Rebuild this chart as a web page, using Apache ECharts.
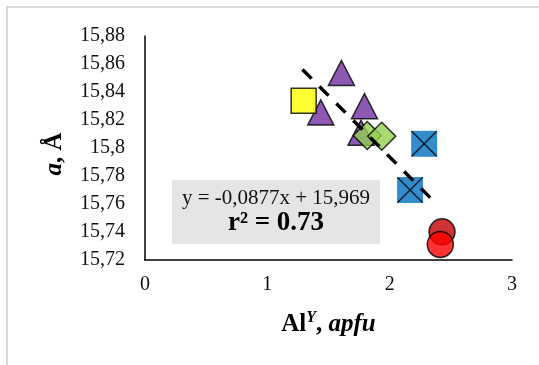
<!DOCTYPE html>
<html>
<head>
<meta charset="utf-8">
<script src="https://cdn.jsdelivr.net/npm/echarts@6/dist/echarts.min.js"></script>
<style>
html,body{margin:0;padding:0;background:#fff;}
#chart{width:539px;height:365px;}
</style>
</head>
<body>
<div id="chart"></div>
<script>
// ---- data ----
const purpleX = [1.606, 1.437, 1.794, 1.766];
const purpleY = [15.8536, 15.8254, 15.8299, 15.8109];
const yellowX = [1.297];
const yellowY = [15.8338];
const greenX = [1.817, 1.935];
const greenY = [15.8089, 15.8084];
const blueX = [2.282, 2.167];
const blueY = [15.8030, 15.7700];
const darkRedX = [2.428];
const darkRedY = [15.7401];
const redX = [2.414];
const redY = [15.7311];
const trendSlope = -0.0877;
const trendIntercept = 15.969;
const trendRangeX = [1.287, 2.344];
const xTicks = [0, 1, 2, 3];
const yTicks = [15.72, 15.74, 15.76, 15.78, 15.8, 15.82, 15.84, 15.86, 15.88];
const eqText = 'y = -0,0877x + 15,969';
const r2Text = 'r² = 0.73';

const FONT = "'Liberation Serif', 'Times New Roman', serif";
const pts = (xs, ys) => xs.map((x, i) => [x, ys[i]]);
const trendData = trendRangeX.map(x => [x, trendSlope * x + trendIntercept]);

const chart = echarts.init(document.getElementById('chart'));

chart.setOption({
  animation: false,
  backgroundColor: '#fff',
  grid: {left: 145, right: 27, top: 36, bottom: 105, containLabel: false},
  xAxis: {
    type: 'value',
    min: xTicks[0], max: xTicks[xTicks.length - 1], interval: 1,
    splitLine: {show: false},
    axisTick: {show: false},
    axisLine: {lineStyle: {color: '#000', width: 1.5}},
    axisLabel: {fontFamily: FONT, fontSize: 20, color: '#111', margin: 15},
    name: '{b|Al}{sup|Y}{b|, }{bi|apfu}',
    nameLocation: 'middle',
    nameGap: 50,
    nameTextStyle: {
      rich: {
        b: {fontFamily: FONT, fontWeight: 'bold', fontSize: 25, color: '#000'},
        sup: {fontFamily: FONT, fontWeight: 'bold', fontStyle: 'italic', fontSize: 16, color: '#000', padding: [0, 0, 14, 0]},
        bi: {fontFamily: FONT, fontWeight: 'bold', fontStyle: 'italic', fontSize: 25, color: '#000'}
      }
    }
  },
  yAxis: {
    type: 'value',
    min: yTicks[0], max: yTicks[yTicks.length - 1], interval: 0.02,
    splitLine: {show: false},
    axisTick: {show: false},
    axisLine: {show: true, lineStyle: {color: '#000', width: 1.5}},
    axisLabel: {
      fontFamily: FONT, fontSize: 20, color: '#111', margin: 20,
      formatter: v => String(+v.toFixed(2)).replace('.', ',')
    },
    name: '{bi|a}{b|, Å}',
    nameLocation: 'middle',
    nameRotate: 90,
    nameGap: 78,
    nameTextStyle: {
      padding: [0, 12, 0, 0],
      rich: {
        b: {fontFamily: FONT, fontWeight: 'bold', fontSize: 25, color: '#000'},
        bi: {fontFamily: FONT, fontWeight: 'bold', fontStyle: 'italic', fontSize: 25, color: '#000'}
      }
    }
  },
  graphic: [
    {type: 'rect', shape: {x: 6, y: 6, width: 2, height: 365}, style: {fill: '#D9D9D9'}, silent: true},
    {type: 'rect', shape: {x: 6, y: 6, width: 539, height: 2}, style: {fill: '#D9D9D9'}, silent: true},
    {type: 'rect', shape: {x: 172, y: 180, width: 208, height: 64}, style: {fill: '#E5E5E5'}, z: 1, silent: true},
    {type: 'text', x: 276, y: 198, z: 2, style: {text: eqText, fontFamily: FONT, fontSize: 21, fill: '#111', align: 'center', verticalAlign: 'middle'}},
    {type: 'text', x: 276, y: 223, z: 2, style: {text: r2Text, fontFamily: FONT, fontWeight: 'bold', fontSize: 27, fill: '#000', align: 'center', verticalAlign: 'middle'}}
  ],
  series: [
    {type: 'scatter', data: pts(purpleX, purpleY), symbol: 'triangle', symbolSize: [26, 25],
     itemStyle: {color: '#7030A0', borderColor: '#000', borderWidth: 1.5}},
    {type: 'scatter', data: pts(yellowX, yellowY), symbol: 'rect', symbolSize: 25,
     itemStyle: {color: '#FFFF00', borderColor: '#000', borderWidth: 1.5}},
    {type: 'scatter', data: pts(greenX, greenY), symbol: 'diamond', symbolSize: 28,
     itemStyle: {color: '#92D050', borderColor: '#000', borderWidth: 1.5}},
    {type: 'scatter', data: pts(blueX, blueY), symbol: 'rect', symbolSize: 26,
     itemStyle: {color: '#0070C0', borderWidth: 0}},
    {type: 'scatter', data: pts(blueX, blueY), symbol: 'path://M0,0L10,10M10,0L0,10', symbolSize: 25,
     itemStyle: {color: 'rgba(0,0,0,0)', borderColor: '#000', borderWidth: 1.5}},
    {type: 'scatter', data: pts(darkRedX, darkRedY), symbol: 'circle', symbolSize: 26,
     itemStyle: {color: '#C00000', borderColor: '#000', borderWidth: 1.5}},
    {type: 'scatter', data: pts(redX, redY), symbol: 'circle', symbolSize: 26,
     itemStyle: {color: '#FF0000', borderColor: '#000', borderWidth: 1.5}},
    {type: 'line', data: trendData, symbol: 'none', z: 5,
     lineStyle: {color: '#000', width: 3.5, type: [13, 11], cap: 'butt'}}
  ]
});
</script>
</body>
</html>
